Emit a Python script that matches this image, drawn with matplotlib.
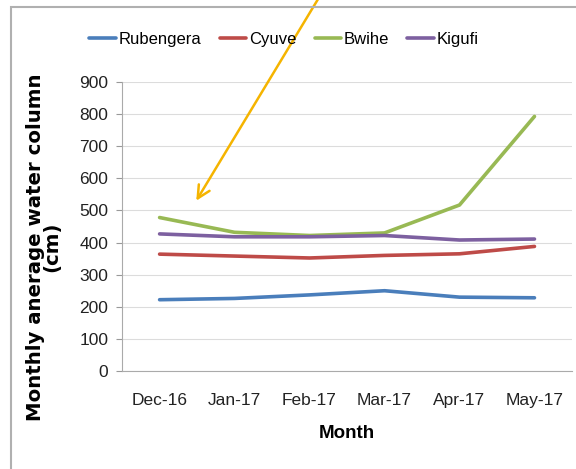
import matplotlib.pyplot as plt
from matplotlib.patches import Rectangle

plt.rcParams['font.family'] = ['Liberation Sans', 'DejaVu Sans']

# 데이터
months = ['Dec-16', 'Jan-17', 'Feb-17', 'Mar-17', 'Apr-17', 'May-17']
rubengera = [222, 226, 237, 250, 230, 228]
cyuve = [364, 358, 352, 360, 365, 388]
bwihe = [478, 432, 422, 430, 517, 793]
kigufi = [427, 418, 418, 422, 408, 411]

series_names = ['Rubengera', 'Cyuve', 'Bwihe', 'Kigufi']
series_values = [rubengera, cyuve, bwihe, kigufi]
series_colors = ['#4a7ebb', '#be4b48', '#98b954', '#7d60a0']

fig = plt.figure(figsize=(5.76, 4.69), dpi=100)
ax = fig.add_axes([0.212, 0.209, 0.781, 0.616])

x = list(range(len(months)))
for name, vals, col in zip(series_names, series_values, series_colors):
    ax.plot(x, vals, color=col, linewidth=2.6, label=name, solid_capstyle='round')

ax.set_xlim(-0.5, len(months) - 0.5)
ax.set_ylim(0, 900)
ax.set_yticks(range(0, 901, 100))
ax.set_xticks(x)
ax.set_xticklabels(months)
ax.tick_params(axis='both', labelsize=12.5, colors='#222222')
ax.tick_params(axis='x', length=0, pad=16)
ax.tick_params(axis='y', length=4, color='#999999', pad=6)
ax.grid(axis='y', color='#dcdcdc', linewidth=0.8)
ax.set_axisbelow(True)
for side in ['top', 'right']:
    ax.spines[side].set_visible(False)
ax.spines['left'].set_color('#aaaaaa')
ax.spines['bottom'].set_color('#aaaaaa')

ax.set_xlabel('Month', fontsize=13.5, fontweight='bold', labelpad=12)
ax.set_ylabel('Monthly anerage water column\n(cm)', fontsize=14.2, fontweight='bold',
              family=['DejaVu Sans'], linespacing=0.85)
ax.yaxis.set_label_coords(-0.135, 0.43)

ax.legend(loc='lower center', bbox_to_anchor=(0.36, 1.07), ncol=4, frameon=False,
          fontsize=12, handlelength=1.6, handletextpad=0.15, columnspacing=1.1)

# 바깥 테두리
fig.patches.append(Rectangle((0.019, -0.05), 1.2, 1.035, transform=fig.transFigure,
                             fill=False, edgecolor='#b0b0b0', linewidth=1.5))

# 주황색 화살표
ax.annotate('', xy=(0.47, 523), xytext=(2.13, 1165), xycoords='data', textcoords='data',
            annotation_clip=False,
            arrowprops=dict(arrowstyle='->,head_length=0.9,head_width=0.45',
                            color='#f5b400', linewidth=1.8))

plt.savefig('out.png', dpi=100)
